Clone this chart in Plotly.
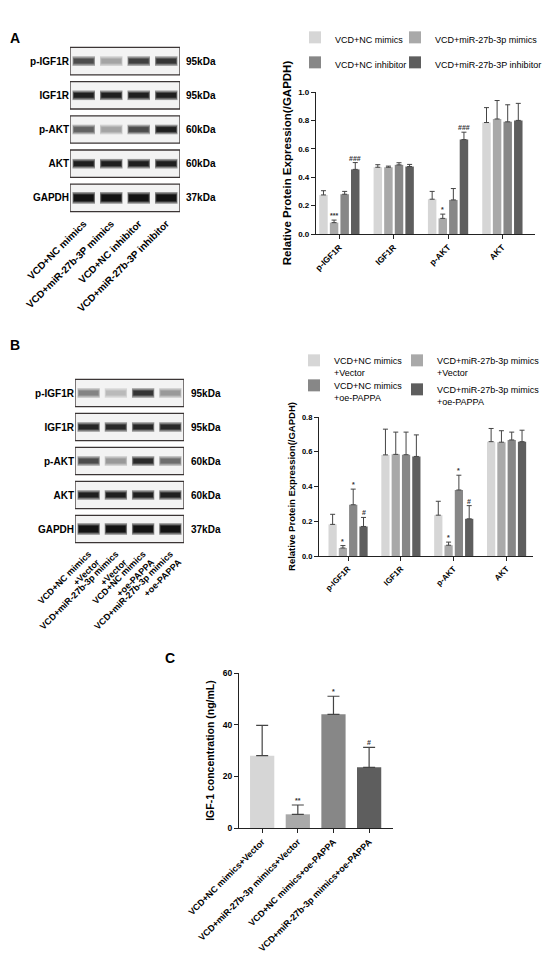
import plotly.graph_objects as go

# page body has an 8px margin, so the figure is drawn 8px in from the top-left
OFF = 8
FW, FH = 542, 945

# ---- data ----
blot_rows = ["p-IGF1R", "IGF1R", "p-AKT", "AKT", "GAPDH"]
blot_kda = ["95kDa", "95kDa", "60kDa", "60kDa", "37kDa"]

lanes_a = ["VCD+NC mimics", "VCD+miR-27b-3P mimics", "VCD+NC inhibitor", "VCD+miR-27b-3P inhibitor"]
lanes_b = ["VCD+NC mimics<br>+Vector", "VCD+miR-27b-3p mimics<br>+Vector",
           "VCD+NC mimics<br>+oe-PAPPA", "VCD+miR-27b-3p mimics<br>+oe-PAPPA"]

# band darkness per row (0 = none, 1 = black), one value per lane
bands_a = [[0.75, 0.35, 0.80, 0.85],
           [0.95, 0.95, 0.95, 0.95],
           [0.65, 0.35, 0.75, 0.95],
           [0.95, 0.95, 0.95, 0.95],
           [1.00, 1.00, 1.00, 1.00]]
bands_b = [[0.50, 0.25, 0.85, 0.40],
           [0.92, 0.90, 0.92, 0.90],
           [0.75, 0.40, 0.90, 0.60],
           [0.95, 0.95, 0.95, 0.95],
           [1.00, 1.00, 1.00, 1.00]]

proteins = ["p-IGF1R", "IGF1R", "p-AKT", "AKT"]

groups_a = ["VCD+NC mimics", "VCD+miR-27b-3p mimics", "VCD+NC inhibitor", "VCD+miR-27b-3P inhibitor"]
mean_a = [[0.275, 0.470, 0.245, 0.785],
          [0.080, 0.470, 0.110, 0.810],
          [0.280, 0.487, 0.240, 0.790],
          [0.455, 0.475, 0.665, 0.800]]
err_a = [[0.030, 0.018, 0.055, 0.105],
         [0.018, 0.008, 0.030, 0.130],
         [0.020, 0.015, 0.080, 0.120],
         [0.048, 0.015, 0.052, 0.120]]
sig_a = [["", "", "", ""],
         ["***", "", "*", ""],
         ["", "", "", ""],
         ["###", "", "###", ""]]

groups_b = ["VCD+NC mimics<br>+Vector", "VCD+miR-27b-3p mimics<br>+Vector",
            "VCD+NC mimics<br>+oe-PAPPA", "VCD+miR-27b-3p mimics<br>+oe-PAPPA"]
mean_b = [[0.182, 0.582, 0.235, 0.658],
          [0.046, 0.585, 0.062, 0.655],
          [0.295, 0.583, 0.380, 0.668],
          [0.170, 0.573, 0.214, 0.658]]
err_b = [[0.058, 0.148, 0.080, 0.076],
         [0.014, 0.128, 0.018, 0.066],
         [0.090, 0.130, 0.085, 0.045],
         [0.052, 0.124, 0.076, 0.066]]
sig_b = [["", "", "", ""],
         ["*", "", "*", ""],
         ["*", "", "*", ""],
         ["#", "", "#", ""]]

cats_c = ["VCD+NC mimics+Vector", "VCD+miR-27b-3p mimics+Vector",
          "VCD+NC mimics+oe-PAPPA", "VCD+miR-27b-3p mimics+oe-PAPPA"]
mean_c = [28.0, 5.3, 44.0, 23.5]
err_c = [11.7, 3.6, 7.0, 7.7]
sig_c = ["", "**", "*", "#"]

colors = ["#d6d6d6", "#a9a9a9", "#878787", "#5e5e5e"]

# ---- helpers ----
FONT = "Arial, Liberation Sans, sans-serif"
BARGAP = 0.22


def px(x):
    return (x - OFF) / FW


def py(y):
    return 1 - (y - OFF) / FH


def xd(a, b):
    return [px(a), px(b)]


def yd(top, bottom):
    return [py(bottom), py(top)]


def gray(v):
    g = int(round(242 - 222 * v))
    return "rgb(%d,%d,%d)" % (g, g, g)


fig = go.Figure()
annotations = []
shapes = []


def add_blot(xa, ya, bands, kda_x):
    for i, row in enumerate(bands):
        core = 0.2 if i == 4 else 0.14
        n = len(row)
        shapes.append(dict(type="rect", xref=xa, yref=ya, x0=-0.5, x1=3.5, y0=i - 0.4, y1=i + 0.4,
                           line=dict(color="#3b3535", width=1.3), fillcolor="#f3f3f3", layer="below"))
        # soft halo + dark core so the bands look less like flat boxes
        for thick, wid, k in [(core + 0.14, 0.82, 0.45), (core + 0.06, 0.78, 0.75), (core, 0.72, 1.0)]:
            fig.add_trace(go.Bar(x=list(range(n)), y=[thick] * n, base=[i - thick / 2] * n,
                                 width=wid, offset=-wid / 2,
                                 marker=dict(color=[gray(v * k) for v in row], line_width=0),
                                 xaxis=xa, yaxis=ya, showlegend=False, hoverinfo="skip"))
        annotations.append(dict(x=px(kda_x), xref="paper", y=i, yref=ya, text=blot_kda[i],
                                showarrow=False, xanchor="left",
                                font=dict(size=10, family=FONT, color="black", weight="bold")))


add_blot("x", "y", bands_a, 184)
add_blot("x3", "y3", bands_b, 189)


def add_bars(xa, ya, groups, means, errs, sigs, legends, cap):
    slot = (1 - BARGAP) / len(groups)
    for j, g in enumerate(groups):
        fig.add_trace(go.Bar(x=proteins, y=means[j], name=g,
                             marker=dict(color=colors[j], line_width=0),
                             error_y=dict(type="data", array=errs[j], arrayminus=[0] * 4,
                                          symmetric=False, color="#444", thickness=1, width=cap),
                             xaxis=xa, yaxis=ya, legend=legends[j]))
        for k, s in enumerate(sigs[j]):
            if s:
                annotations.append(dict(x=k + (j - 1.5) * slot, xref=xa,
                                        y=means[j][k] + errs[j][k], yref=ya, text=s,
                                        showarrow=False, yanchor="bottom", yshift=-1,
                                        font=dict(size=7, family=FONT, color="#333333", weight="bold")))


add_bars("x2", "y2", groups_a, mean_a, err_a, sig_a, ["legend", "legend2", "legend3", "legend4"], 2.5)
add_bars("x4", "y4", groups_b, mean_b, err_b, sig_b, ["legend5", "legend6", "legend7", "legend8"], 2.5)

fig.add_trace(go.Bar(x=cats_c, y=mean_c, width=0.68,
                     marker=dict(color=colors, line_width=0),
                     error_y=dict(type="data", array=err_c, arrayminus=[0] * 4, symmetric=False,
                                  color="#444", thickness=1.2, width=6),
                     xaxis="x5", yaxis="y5", showlegend=False))
for k, s in enumerate(sig_c):
    if s:
        annotations.append(dict(x=k, xref="x5", y=mean_c[k] + err_c[k], yref="y5", text=s,
                                showarrow=False, yanchor="bottom", yshift=-1,
                                font=dict(size=7, family=FONT, color="#333333", weight="bold")))

# panel letters
for letter, lx, ly in [("A", 8, 38), ("B", 8, 345), ("C", 163, 658)]:
    annotations.append(dict(x=px(lx), y=py(ly), xref="paper", yref="paper", text=letter,
                            showarrow=False, xanchor="left", yanchor="middle",
                            font=dict(size=14, family=FONT, color="black", weight="bold")))

blot_x = dict(range=[-0.5, 3.5], showgrid=False, zeroline=False, showline=False, ticks="",
              tickangle=-45, tickmode="array", tickvals=[0, 1, 2, 3],
              tickfont=dict(size=10, family=FONT, color="black", weight="bold"))
blot_y = dict(range=[4.5, -0.5], showgrid=False, zeroline=False, showline=False, ticks="",
              tickmode="array", tickvals=[0, 1, 2, 3, 4], ticktext=blot_rows,
              tickfont=dict(size=10, family=FONT, color="black", weight="bold"))
axis_style = dict(showgrid=False, zeroline=False, showline=True, linecolor="#222", linewidth=1.2,
                  ticks="outside", ticklen=4, tickcolor="#222", tickwidth=1.2)
tick_a = dict(size=8, family=FONT, color="black", weight="bold")
tick_b = dict(size=7.5, family=FONT, color="black", weight="bold")

leg = dict(orientation="h", xanchor="left", yanchor="top", valign="top",
           bgcolor="rgba(0,0,0,0)", font=dict(size=9, family=FONT, color="black"),
           itemwidth=30)

# legend boxes: (left, top) in page pixels
leg_pos = [(295, 25), (395, 25), (295, 50), (395, 50),
           (294, 348), (397, 348), (294, 373), (397, 377)]
legends = {}
for n, (lx, ly) in enumerate(leg_pos):
    key = "legend" if n == 0 else "legend%d" % (n + 1)
    legends[key] = dict(leg, x=px(lx), y=py(ly))

fig.update_layout(
    width=FW, height=FH, margin=dict(l=0, r=0, t=0, b=0, autoexpand=False),
    paper_bgcolor="white", plot_bgcolor="white",
    barmode="group", bargap=BARGAP, bargroupgap=0.2,
    font=dict(family=FONT, color="black"),
    xaxis=dict(blot_x, domain=xd(70, 180), ticktext=lanes_a, anchor="y"),
    yaxis=dict(blot_y, domain=yd(44, 215), anchor="x"),
    xaxis3=dict(blot_x, domain=xd(75, 184), ticktext=lanes_b, anchor="y3",
                tickfont=dict(size=9, family=FONT, color="black", weight="bold")),
    yaxis3=dict(blot_y, domain=yd(376, 546), anchor="x3"),
    xaxis2=dict(axis_style, domain=xd(316, 535), range=[-0.43, 3.6], anchor="y2",
                tickangle=-45, tickfont=dict(tick_a, size=8.5)),
    yaxis2=dict(axis_style, domain=yd(92, 234), range=[0, 1.0], anchor="x2",
                tickvals=[0, 0.2, 0.4, 0.6, 0.8, 1.0], tickformat=".1f", tickfont=tick_a,
                title=dict(text="Relative Protein Expression(/GAPDH)",
                           font=dict(size=11.5, family=FONT, color="black", weight="bold"), standoff=4)),
    xaxis4=dict(axis_style, domain=xd(319, 533), range=[-0.55, 3.5], anchor="y4",
                tickangle=-45, tickfont=dict(tick_b, size=8)),
    yaxis4=dict(axis_style, domain=yd(417, 556), range=[0, 0.8], anchor="x4",
                tickvals=[0, 0.2, 0.4, 0.6, 0.8], tickformat=".1f", tickfont=tick_b,
                title=dict(text="Relative Protein Expression(/GAPDH)",
                           font=dict(size=9.5, family=FONT, color="black", weight="bold"), standoff=4)),
    xaxis5=dict(axis_style, domain=xd(239, 393), range=[-0.65, 3.67], anchor="y5",
                tickangle=-45, tickfont=dict(size=9, family=FONT, color="black", weight="bold")),
    yaxis5=dict(axis_style, domain=yd(673, 828), range=[0, 60], anchor="x5",
                tickvals=[0, 20, 40, 60], tickfont=dict(size=8.5, family=FONT, color="black", weight="bold"),
                title=dict(text="IGF-1 concentration (ng/mL)",
                           font=dict(size=10.5, family=FONT, color="black", weight="bold"), standoff=6)),
    annotations=annotations,
    shapes=shapes,
    **legends,
)

fig.write_html("out.html")
